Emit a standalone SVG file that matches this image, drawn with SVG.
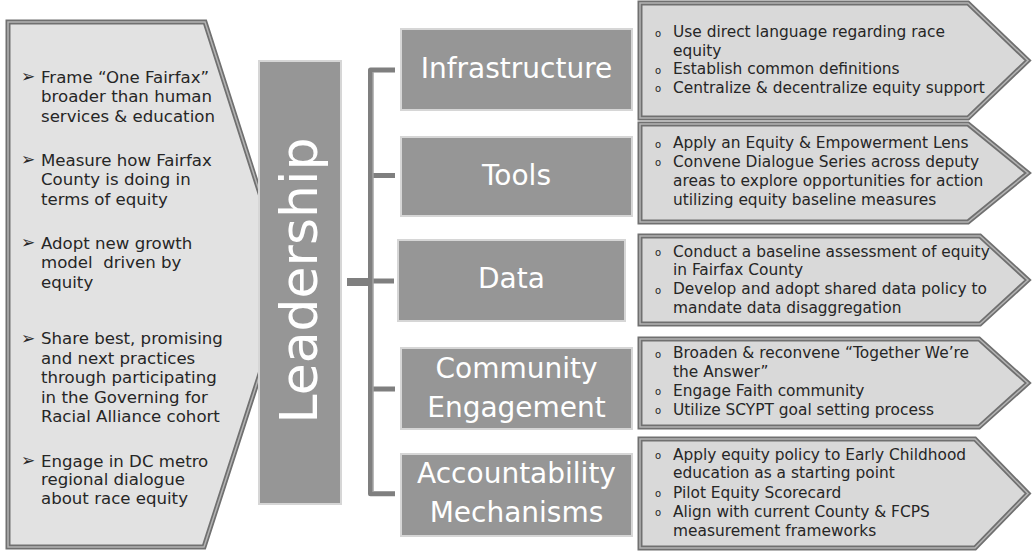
<svg xmlns="http://www.w3.org/2000/svg" width="1036" height="560" viewBox="0 0 1036 560">
<style>
.panel{fill:#e2e2e2}
.pb1{fill:none;stroke:#707070;stroke-width:5;stroke-linejoin:miter}
.pb2{fill:none;stroke:#b4b4b4;stroke-width:1.5;stroke-linejoin:miter}
.rbox{fill:#d9d9d9}
.cat{fill:#969696;stroke:#d6d6d6;stroke-width:2}
.lt{font-family:"DejaVu Sans",Verdana,sans-serif;font-size:16.6px;fill:#262626}
.lb{font-family:"DejaVu Sans",sans-serif;font-size:17px;fill:#262626}
.rt{font-family:"DejaVu Sans",Verdana,sans-serif;font-size:15.4px;fill:#262626}
.rb{font-family:"DejaVu Sans",sans-serif;font-size:10px;fill:#262626}
.ct{font-family:"DejaVu Sans",Verdana,sans-serif;font-size:28px;fill:#ffffff;text-anchor:middle}
.conn{fill:none;stroke:#7f7f7f;stroke-width:5;stroke-linejoin:round}
.connl{fill:none;stroke:#a3a3a3;stroke-width:1.5}
</style>

<g id="left-panel">
<polygon class="panel" points="8,22 205,22 289,284 204,547 8,547"/>
<polygon class="pb1" points="8,22 205,22 289,284 204,547 8,547"/>
<polygon class="pb2" points="8,22 205,22 289,284 204,547 8,547"/>
<text class="lb" x="21" y="82">➢</text>
<text class="lt" x="41" y="82.5">Frame “One Fairfax”</text>
<text class="lt" x="41" y="102">broader than human</text>
<text class="lt" x="41" y="121.5">services &amp; education</text>
<text class="lb" x="21" y="165">➢</text>
<text class="lt" x="41" y="165.5">Measure how Fairfax</text>
<text class="lt" x="41" y="185">County is doing in</text>
<text class="lt" x="41" y="204.5">terms of equity</text>
<text class="lb" x="21" y="248">➢</text>
<text class="lt" x="41" y="248.5">Adopt new growth</text>
<text class="lt" x="41" y="268" xml:space="preserve">model  driven by</text>
<text class="lt" x="41" y="287.5">equity</text>
<text class="lb" x="21" y="343.5">➢</text>
<text class="lt" x="41" y="344">Share best, promising</text>
<text class="lt" x="41" y="363.5">and next practices</text>
<text class="lt" x="41" y="383">through participating</text>
<text class="lt" x="41" y="402.5">in the Governing for</text>
<text class="lt" x="41" y="422">Racial Alliance cohort</text>
<text class="lb" x="21" y="466">➢</text>
<text class="lt" x="41" y="466.5">Engage in DC metro</text>
<text class="lt" x="41" y="485">regional dialogue</text>
<text class="lt" x="41" y="503.5">about race equity</text>
</g>

<g id="leadership">
<rect x="259" y="61" width="82" height="443" fill="#969696" stroke="#d6d6d6" stroke-width="2"/>
<text transform="translate(317,280.5) rotate(-90)" text-anchor="middle" font-family="DejaVu Sans, Verdana, sans-serif" font-size="52" fill="#ffffff">Leadership</text>
</g>

<g id="connectors">
<path class="conn" d="M395,70 H370.5 V493.7 H395"/>
<path class="conn" d="M370.5,175.5 H395 M370.5,389 H395"/>
<path class="conn" d="M370.5,281 H394"/>
<path d="M347,282 H373" fill="none" stroke="#7f7f7f" stroke-width="8"/>
<path class="connl" d="M373,72 V492"/>
</g>

<g id="cat-infrastructure">
<rect class="cat" x="401" y="29" width="231" height="81"/>
<text class="ct" x="516.5" y="78.3">Infrastructure</text>
</g>
<g id="cat-tools">
<rect class="cat" x="401" y="137" width="231" height="79"/>
<text class="ct" x="516.5" y="185">Tools</text>
</g>
<g id="cat-data">
<rect class="cat" x="398" y="240" width="227" height="81"/>
<text class="ct" x="511.5" y="288.3">Data</text>
</g>
<g id="cat-community">
<rect class="cat" x="401" y="348" width="231" height="81"/>
<text class="ct" x="516.5" y="377.7">Community</text>
<text class="ct" x="516.5" y="416.7">Engagement</text>
</g>
<g id="cat-accountability">
<rect class="cat" x="401" y="454" width="231" height="82"/>
<text class="ct" x="516.5" y="483.3">Accountability</text>
<text class="ct" x="516.5" y="522.3">Mechanisms</text>
</g>

<g id="box-infrastructure">
<polygon class="rbox" points="640,3 968,3 1028,60.5 968,118 640,118"/>
<polygon class="pb1" points="640,3 968,3 1028,60.5 968,118 640,118"/>
<polygon class="pb2" points="640,3 968,3 1028,60.5 968,118 640,118"/>
<text class="rb" x="655" y="36.5">o</text><text class="rt" x="673" y="37.3">Use direct language regarding race</text>
<text class="rt" x="673" y="56">equity</text>
<text class="rb" x="655" y="73.5">o</text><text class="rt" x="673" y="74.3">Establish common definitions</text>
<text class="rb" x="655" y="92">o</text><text class="rt" x="673" y="92.7">Centralize &amp; decentralize equity support</text>
</g>

<g id="box-tools">
<polygon class="rbox" points="640,124 968,124 1028,173 968,222 640,222"/>
<polygon class="pb1" points="640,124 968,124 1028,173 968,222 640,222"/>
<polygon class="pb2" points="640,124 968,124 1028,173 968,222 640,222"/>
<text class="rb" x="655" y="147.5">o</text><text class="rt" x="673" y="148.3">Apply an Equity &amp; Empowerment Lens</text>
<text class="rb" x="655" y="166">o</text><text class="rt" x="673" y="166.8">Convene Dialogue Series across deputy</text>
<text class="rt" x="673" y="185.8">areas to explore opportunities for action</text>
<text class="rt" x="673" y="204.8">utilizing equity baseline measures</text>
</g>

<g id="box-data">
<polygon class="rbox" points="640,236 980,236 1028,280 980,324 640,324"/>
<polygon class="pb1" points="640,236 980,236 1028,280 980,324 640,324"/>
<polygon class="pb2" points="640,236 980,236 1028,280 980,324 640,324"/>
<text class="rb" x="655" y="256">o</text><text class="rt" x="673" y="256.7">Conduct a baseline assessment of equity</text>
<text class="rt" x="673" y="275">in Fairfax County</text>
<text class="rb" x="655" y="293.5">o</text><text class="rt" x="673" y="294.3">Develop and adopt shared data policy to</text>
<text class="rt" x="673" y="312.7">mandate data disaggregation</text>
</g>

<g id="box-community">
<polygon class="rbox" points="640,339 979,339 1028,383 979,427 640,427"/>
<polygon class="pb1" points="640,339 979,339 1028,383 979,427 640,427"/>
<polygon class="pb2" points="640,339 979,339 1028,383 979,427 640,427"/>
<text class="rb" x="655" y="357.5">o</text><text class="rt" x="673" y="358.3">Broaden &amp; reconvene “Together We’re</text>
<text class="rt" x="673" y="376.7">the Answer”</text>
<text class="rb" x="655" y="395.3">o</text><text class="rt" x="673" y="396">Engage Faith community</text>
<text class="rb" x="655" y="414.3">o</text><text class="rt" x="673" y="415">Utilize SCYPT goal setting process</text>
</g>

<g id="box-accountability">
<polygon class="rbox" points="640,439 975,439 1028,493.5 975,548 640,548"/>
<polygon class="pb1" points="640,439 975,439 1028,493.5 975,548 640,548"/>
<polygon class="pb2" points="640,439 975,439 1028,493.5 975,548 640,548"/>
<text class="rb" x="655" y="459.3">o</text><text class="rt" x="673" y="460">Apply equity policy to Early Childhood</text>
<text class="rt" x="673" y="478.3">education as a starting point</text>
<text class="rb" x="655" y="497">o</text><text class="rt" x="673" y="497.7">Pilot Equity Scorecard</text>
<text class="rb" x="655" y="516">o</text><text class="rt" x="673" y="516.7">Align with current County &amp; FCPS</text>
<text class="rt" x="673" y="536">measurement frameworks</text>
</g>
</svg>
